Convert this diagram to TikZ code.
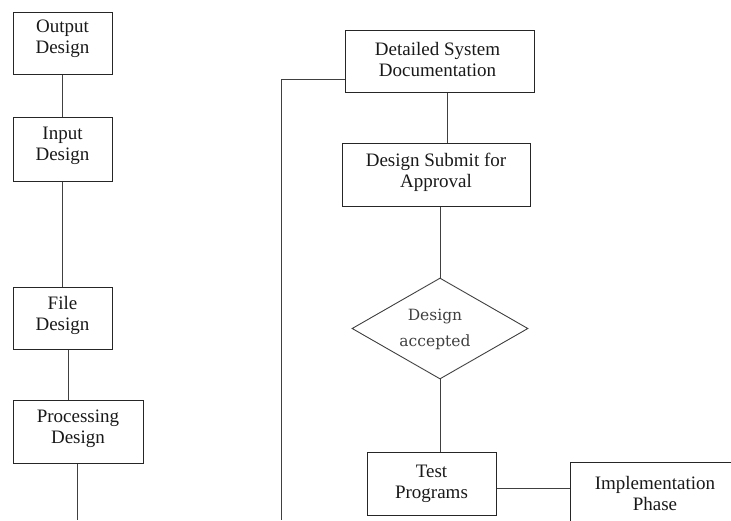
\documentclass[tikz,border=0pt]{standalone}
\usepackage{fontspec}
\setmainfont{Liberation Serif}
\newfontfamily\decisionfont{DejaVu Serif}
\usetikzlibrary{shapes.geometric}
\newcommand\boxfont{\fontsize{19}{21}\selectfont}
\newcommand\decfont{\decisionfont\fontsize{15.5}{26}\selectfont}
\begin{document}
\begin{tikzpicture}[x=1pt, y=-1pt,
  box/.style={draw=black!85, line width=1pt, inner sep=0pt},
  lbl/.style={font=\boxfont, align=center, inner sep=0pt, text=black!90},
  declbl/.style={font=\decfont, align=center, inner sep=0pt, text=black!75},
  link/.style={draw=black!75, line width=0.9pt}]
\useasboundingbox (0,0) rectangle (731,520);

% left column: design stages
\node[box, minimum width=99, minimum height=62,
  label={[lbl,yshift=4]center:Output\\Design}] (out) at (62.5,43) {};
\node[box, minimum width=99, minimum height=64,
  label={[lbl,yshift=3]center:Input\\Design}] (inp) at (62.5,149) {};
\node[box, minimum width=99, minimum height=62,
  label={[lbl,yshift=3]center:File\\Design}] (file) at (62.5,318) {};
\node[box, minimum width=130, minimum height=63,
  label={[lbl,yshift=3]center:Processing\\Design}] (proc) at (78,431.5) {};
\coordinate (pend) at (77,520);

% right column: documentation, approval and testing
\node[box, minimum width=189, minimum height=62,
  label={[lbl,yshift=2,xshift=-2]center:Detailed System\\Documentation}] (dsd) at (439.5,61) {};
\node[box, minimum width=188, minimum height=63,
  label={[lbl,yshift=2]center:Design Submit for\\Approval}] (dsa) at (436,174.5) {};
\node[diamond, draw=black!75, line width=0.9pt, inner sep=0pt, aspect=1.74,
  minimum width=176, minimum height=101,
  label={[declbl,xshift=-5,yshift=-1]center:Design\\accepted}] (acc) at (440,328.5) {};
\node[box, minimum width=129, minimum height=63,
  label={[lbl]center:Test\\Programs}] (test) at (431.5,483.5) {};
\node[box, minimum width=170, minimum height=62,
  label={[lbl]center:Implementation\\Phase}] (impl) at (655,493) {};
\coordinate (lend) at (281,520);

% connectors
\draw[link] (out) -- (inp);
\draw[link] (inp) -- (file);
\draw[link] ([xshift=5.5]file.south) -- ([xshift=5.5]file.south |- proc.north);
\draw[link] (pend |- proc.south) -- (pend);

\draw[link] ([xshift=7.5]dsd.south) -- ([xshift=7.5]dsd.south |- dsa.north);
\draw[link] (acc.north |- dsa.south) -- (acc.north);
\draw[link] (acc.south) -- (acc.south |- test.north);
\draw[link] ([yshift=-4.5]test.east) -- ([yshift=-4.5]test.east -| impl.west);
\draw[link] ([yshift=-18]dsd.west) -| (lend);
\end{tikzpicture}
\end{document}
